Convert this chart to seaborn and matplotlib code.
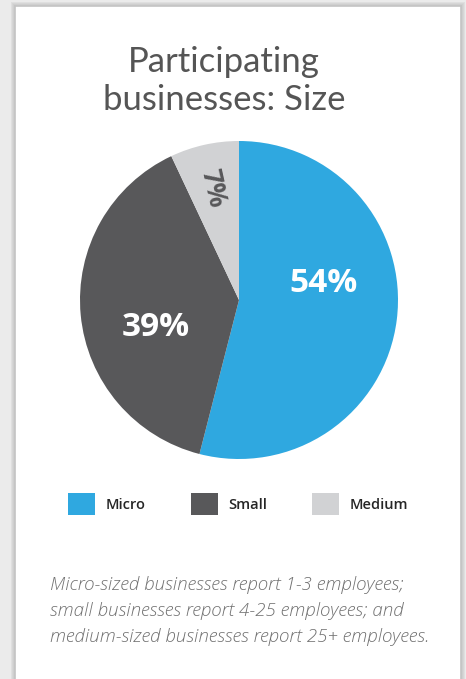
import numpy as np
import matplotlib
matplotlib.use('Agg')
import matplotlib.pyplot as plt
import seaborn as sns
from matplotlib.patches import Rectangle, Patch

# dados
categorias = ['Micro', 'Small', 'Medium']
valores = [54, 39, 7]
rotulos = ['54%', '39%', '7%']
cores = ['#2fa8e0', '#58585a', '#d1d2d4']
titulo = 'Participating\nbusinesses: Size'
nota = ('Micro-sized businesses report 1-3 employees;\n'
        'small businesses report 4-25 employees; and\n'
        'medium-sized businesses report 25+ employees.')

sns.set_theme(style='white')
plt.rcParams['font.family'] = ['Open Sans', 'DejaVu Sans']

fig = plt.figure(figsize=(4.66, 6.79), dpi=100)
fig.patch.set_facecolor('#ebebeb')

W, H = 466, 679
# cartão branco com sombra
for i, a in enumerate([0.05, 0.04, 0.03, 0.02]):
    fig.patches.append(Rectangle(((15 - 4 + i) / W, 0), (446 + 2 * (4 - i)) / W, (673 + 4 - i) / H,
                                 transform=fig.transFigure, facecolor='#000000', alpha=a,
                                 edgecolor='none', zorder=0))
fig.patches.append(Rectangle((15 / W, -0.01), 446 / W, (673 + 7) / H, transform=fig.transFigure,
                             facecolor='white', edgecolor='#c4c4c4', linewidth=1.2, zorder=1))

# pizza
cx, cy, r = 239, 300, 159
ax = fig.add_axes([(cx - r) / W, (H - cy - r) / H, 2 * r / W, 2 * r / H])
ax.set_zorder(3)
ax.set_facecolor('none')
wedges, _ = ax.pie(valores, colors=cores, startangle=90, counterclock=False,
                   wedgeprops=dict(linewidth=0))
ax.set_xlim(-1, 1)
ax.set_ylim(-1, 1)
ax.set_aspect('equal')
ax.axis('off')

# rótulos de percentagem
pos_rotulo = [(10.8, 0.54, 24), (198.6, 0.55, 24), (103, 0.72, 19)]
for w, txt, (ang, dist, fs) in zip(wedges, rotulos, pos_rotulo):
    x = dist * np.cos(np.deg2rad(ang))
    y = dist * np.sin(np.deg2rad(ang))
    rot = 0
    if txt == '7%':
        mid = (w.theta1 + w.theta2) / 2
        rot = mid - 180
    ax.text(x, y, txt, ha='center', va='center', color='white', fontsize=fs,
            fontweight='bold', rotation=rot, rotation_mode='anchor')
# o 7% fica escuro
ax.texts[-1].set_color('#58585a')

fig.text(224 / W, 1 - 81 / H, titulo, ha='center', va='center', fontsize=25,
         color='#555555', family=['Lato', 'DejaVu Sans'], linespacing=1.2)

# legenda
handles = [Patch(facecolor=c, edgecolor='none', label=l) for c, l in zip(cores, categorias)]
fig.legend(handles=handles, loc='center', bbox_to_anchor=(238 / W, 1 - 504 / H), ncol=3,
           frameon=False, handlelength=1.85, handleheight=1.85,
           handletextpad=0.7, columnspacing=3.1, prop={'weight': 'semibold', 'size': 10.5})

fig.text(50 / W, 1 - 611 / H, nota, ha='left', va='center', fontsize=13.5, style='italic',
         color='#707070', linespacing=1.6, fontweight='light')

fig.savefig('out.png', dpi=100)
